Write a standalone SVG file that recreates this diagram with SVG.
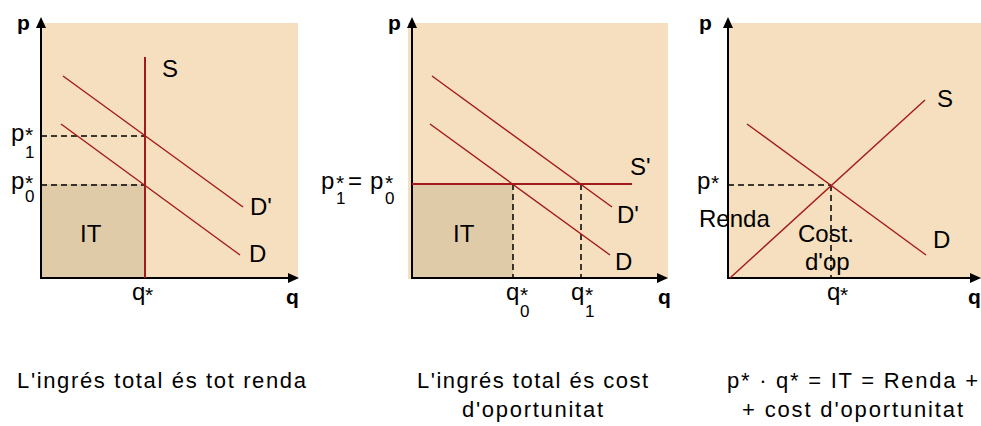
<svg xmlns="http://www.w3.org/2000/svg" width="981" height="426" viewBox="0 0 981 426">
<defs>
<style>
.bg{fill:#f5dfbe}
.it{fill:#e0cba8}
.ax{stroke:#000;stroke-width:2;fill:none}
.ah{fill:#000}
.red{stroke:#a31a1a;stroke-width:1.4;fill:none}
.redb{stroke:#a31a1a;stroke-width:2;fill:none}
.dash{stroke:#000;stroke-width:1.5;stroke-dasharray:6 4;fill:none}
text{font-family:"Liberation Sans",Arial,sans-serif;fill:#000}
.lb{font-size:24px}
.sm{font-size:17px}
.st{font-size:21px}
.bd{font-size:21px;font-weight:bold}
.cap{font-size:22px}
</style>
</defs>
<rect width="981" height="426" fill="#fff"/>

<g id="panel1">
<rect class="bg" x="40" y="23" width="258" height="256"/>
<rect class="it" x="41" y="184" width="104" height="94"/>
<line class="dash" x1="41" y1="136" x2="145" y2="136"/>
<line class="dash" x1="41" y1="185" x2="145" y2="185"/>
<g id="axes1">
<line class="ax" x1="41" y1="26" x2="41" y2="279"/>
<line class="ax" x1="40" y1="278" x2="292" y2="278"/>
<polygon class="ah" points="41,17 36,28 46,28"/>
<polygon class="ah" points="299,278 288,273 288,283"/>
</g>
<g id="S1"><line class="redb" x1="145" y1="57" x2="145" y2="278"/><text class="lb" x="162" y="77">S</text></g>
<g id="Dp1"><line class="red" x1="63" y1="76" x2="243" y2="207"/><text class="lb" x="250" y="215">D'</text></g>
<g id="D1"><line class="red" x1="61" y1="124" x2="240" y2="255"/><text class="lb" x="249" y="262">D</text></g>
<text class="lb" x="80" y="242">IT</text>
<text class="lb" x="11" y="141">p<tspan class="st" x="25" y="142">*</tspan><tspan class="sm" x="25" y="158">1</tspan></text>
<text class="lb" x="11" y="189">p<tspan class="st" x="25" y="190">*</tspan><tspan class="sm" x="25" y="202">0</tspan></text>
<text class="lb" x="132" y="300">q<tspan class="st" x="145" y="302">*</tspan></text>
<text class="bd" x="17" y="30">p</text>
<text class="bd" x="286" y="304">q</text>
</g>

<g id="panel2">
<rect class="bg" x="408" y="23" width="260" height="256"/>
<rect class="it" x="412" y="184" width="101" height="94"/>
<line class="dash" x1="513" y1="184" x2="513" y2="278"/>
<line class="dash" x1="581" y1="184" x2="581" y2="278"/>
<g id="axes2">
<line class="ax" x1="412" y1="26" x2="412" y2="279"/>
<line class="ax" x1="411" y1="278" x2="661" y2="278"/>
<polygon class="ah" points="412,17 407,28 417,28"/>
<polygon class="ah" points="668,278 657,273 657,283"/>
</g>
<g id="Sp2"><line class="redb" x1="412" y1="184" x2="632" y2="184"/><text class="lb" x="630" y="175">S'</text></g>
<g id="Dp2"><line class="red" x1="432" y1="76" x2="612" y2="207"/><text class="lb" x="617" y="223">D'</text></g>
<g id="D2"><line class="red" x1="430" y1="124" x2="610" y2="255"/><text class="lb" x="615" y="270">D</text></g>
<text class="lb" x="453" y="242">IT</text>
<text class="lb" x="321" y="189">p<tspan class="st" x="336" y="190">*</tspan><tspan class="sm" x="336" y="204">1</tspan><tspan x="348" y="189">=</tspan><tspan x="370" y="189">p</tspan><tspan class="st" x="385" y="190">*</tspan><tspan class="sm" x="385" y="204">0</tspan></text>
<text class="lb" x="506" y="300">q<tspan class="st" x="520" y="302">*</tspan><tspan class="sm" x="520" y="317">0</tspan></text>
<text class="lb" x="571" y="300">q<tspan class="st" x="585" y="302">*</tspan><tspan class="sm" x="585" y="317">1</tspan></text>
<text class="bd" x="388" y="30">p</text>
<text class="bd" x="658" y="304">q</text>
</g>

<g id="panel3">
<rect class="bg" x="727" y="23" width="254" height="256"/>
<line class="dash" x1="728" y1="185" x2="831" y2="185"/>
<line class="dash" x1="831" y1="185" x2="831" y2="278"/>
<g id="axes3">
<line class="ax" x1="728" y1="26" x2="728" y2="279"/>
<line class="ax" x1="727" y1="278" x2="974" y2="278"/>
<polygon class="ah" points="728,17 723,28 733,28"/>
<polygon class="ah" points="981,278 970,273 970,283"/>
</g>
<g id="S3"><line class="red" x1="730" y1="278" x2="925" y2="100"/><text class="lb" x="937" y="107">S</text></g>
<g id="D3"><line class="red" x1="747" y1="124" x2="926" y2="255"/><text class="lb" x="933" y="248">D</text></g>
<text class="lb" x="697" y="189">p<tspan class="st" x="711" y="190">*</tspan></text>
<text class="lb" x="699" y="227">Renda</text>
<text class="lb" x="798" y="242">Cost.</text>
<text class="lb" x="805" y="270">d'op</text>
<text class="lb" x="827" y="300">q<tspan class="st" x="840" y="302">*</tspan></text>
<text class="bd" x="699" y="30">p</text>
<text class="bd" x="968" y="304">q</text>
</g>

<g id="captions">
<text class="cap" x="17" y="388" textLength="289" lengthAdjust="spacing">L'ingrés total és tot renda</text>
<text class="cap" x="417" y="388" textLength="231" lengthAdjust="spacing">L'ingrés total és cost</text>
<text class="cap" x="462" y="417" textLength="141" lengthAdjust="spacing">d'oportunitat</text>
<text class="cap" x="727" y="388" textLength="251" lengthAdjust="spacing">p* · q* = IT = Renda +</text>
<text class="cap" x="742" y="417" textLength="221" lengthAdjust="spacing">+ cost d'oportunitat</text>
</g>
</svg>
